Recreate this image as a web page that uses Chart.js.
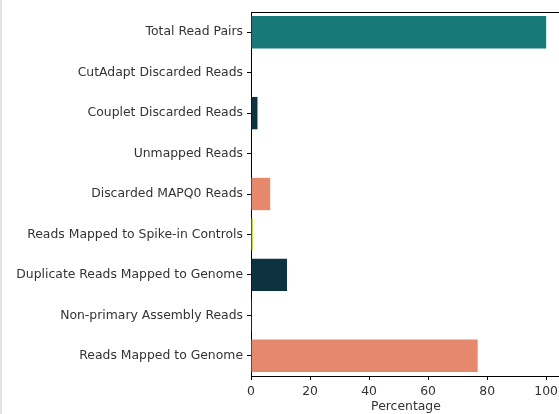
<!DOCTYPE html>
<html>
<head>
<meta charset="utf-8">
<script src="https://cdn.jsdelivr.net/npm/chart.js@4.4.1/dist/chart.umd.min.js"></script>
<style>
  html, body { margin: 0; padding: 0; background: #fff; overflow: hidden; }
  #wrap { position: absolute; left: 0; top: 0; width: 562px; height: 414px; }
</style>
</head>
<body>
<div id="wrap"><canvas id="chart" width="562" height="414"></canvas></div>
<script>
const categories = [
    'Total Read Pairs',
    'CutAdapt Discarded Reads',
    'Couplet Discarded Reads',
    'Unmapped Reads',
    'Discarded MAPQ0 Reads',
    'Reads Mapped to Spike-in Controls',
    'Duplicate Reads Mapped to Genome',
    'Non-primary Assembly Reads',
    'Reads Mapped to Genome',
];
const percentages = [100, 0, 2.2, 0, 6.5, 0.6, 12.2, 0.3, 76.8];
const barColors = ['#18787a', '#18787a', '#0d3340', '#0d3340', '#e6886b', '#b8cf1c', '#0d3340', '#18787a', '#e6886b'];
const xTicks = [0, 20, 40, 60, 80, 100];

const spines = {
    id: 'spines',
    afterDraw(chart) {
        const { ctx, chartArea } = chart;
        ctx.save();
        ctx.strokeStyle = '#000';
        ctx.lineWidth = 1;
        ctx.beginPath();
        ctx.moveTo(chartArea.left, chartArea.top + 0.5);
        ctx.lineTo(chartArea.right, chartArea.top + 0.5);
        ctx.stroke();
        ctx.strokeStyle = '#e2e2e2';
        ctx.lineWidth = 2;
        ctx.beginPath();
        ctx.moveTo(1, 0);
        ctx.lineTo(1, chart.height);
        ctx.stroke();
        ctx.restore();
    },
};

const font = { family: 'DejaVu Sans', size: 12.4 };

new Chart(document.getElementById('chart'), {
    type: 'bar',
    data: {
        labels: categories,
        datasets: [{
            data: percentages,
            backgroundColor: barColors,
            barPercentage: 0.8,
            categoryPercentage: 1,
        }],
    },
    options: {
        indexAxis: 'y',
        responsive: false,
        animation: false,
        layout: { padding: { top: 12, right: 0, left: 0, bottom: 0 } },
        plugins: { legend: { display: false }, tooltip: { enabled: false } },
        scales: {
            x: {
                min: 0,
                max: 105,
                afterBuildTicks: (axis) => { axis.ticks = xTicks.map(v => ({ value: v })); },
                afterFit: (axis) => { axis.height = 38; },
                grid: { drawOnChartArea: false, tickLength: 4, color: '#000' },
                border: { display: true, color: '#000' },
                ticks: { color: '#333', font, padding: 4, maxRotation: 0 },
                title: {
                    display: true,
                    text: 'Percentage',
                    color: '#333',
                    font,
                    padding: { top: 0, bottom: 0 },
                },
            },
            y: {
                afterFit: (axis) => { axis.width = 251; },
                grid: { drawOnChartArea: false, offset: false, tickLength: 4, color: '#000' },
                border: { display: true, color: '#000' },
                ticks: { color: '#333', font, padding: 4, autoSkip: false },
            },
        },
    },
    plugins: [spines],
});
</script>
</body>
</html>
